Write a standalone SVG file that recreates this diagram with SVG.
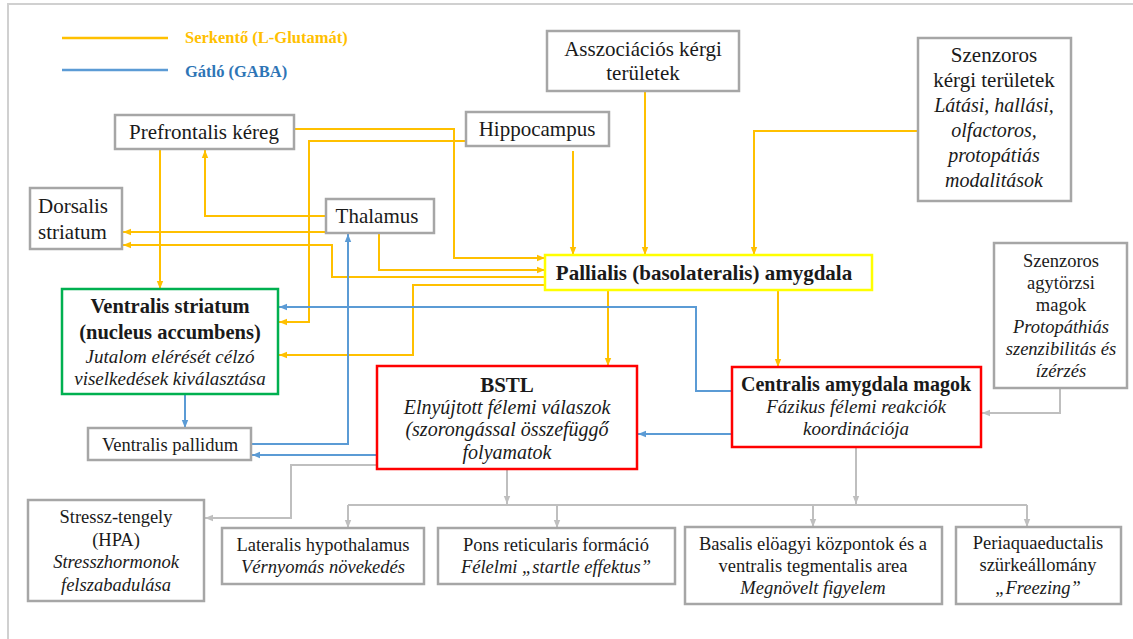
<svg xmlns="http://www.w3.org/2000/svg" width="1133" height="639" viewBox="0 0 1133 639" font-family="'Liberation Serif', serif">
<defs>
<style>
.box{fill:#fff;stroke:#A6A6A6;stroke-width:2.5}
.green{fill:#fff;stroke:#00B050;stroke-width:2.5}
.red{fill:#fff;stroke:#FF0000;stroke-width:2.5}
.yellow{fill:#fff;stroke:#FFFF00;stroke-width:2.5}
.o{fill:none;stroke:#FFC000;stroke-width:2}
.bl{fill:none;stroke:#5B9BD5;stroke-width:2}
.g{fill:none;stroke:#BFBFBF;stroke-width:2}
text{font-family:'Liberation Serif',serif;fill:#1a1a1a}
.m{text-anchor:middle}
.r21{font-size:21px}
.b21{font-size:21px;font-weight:bold}
.b205{font-size:20.5px;font-weight:bold}
.b20{font-size:20px;font-weight:bold}
.i20{font-size:20px;font-style:italic}
.i19{font-size:19px;font-style:italic}
.s{font-size:18.5px}
.si{font-size:18.5px;font-style:italic}
.leg{font-size:16.5px;font-weight:bold}
</style>
<marker id="ao" viewBox="0 0 10 10" refX="10" refY="5" markerWidth="8" markerHeight="8" markerUnits="userSpaceOnUse" orient="auto"><path d="M0,1 L10,5 L0,9 z" fill="#FFC000"/></marker>
<marker id="ab" viewBox="0 0 10 10" refX="10" refY="5" markerWidth="8" markerHeight="8" markerUnits="userSpaceOnUse" orient="auto"><path d="M0,1 L10,5 L0,9 z" fill="#5B9BD5"/></marker>
<marker id="ag" viewBox="0 0 10 10" refX="10" refY="5" markerWidth="8" markerHeight="8" markerUnits="userSpaceOnUse" orient="auto"><path d="M0,1 L10,5 L0,9 z" fill="#BFBFBF"/></marker>
</defs>
<rect width="1133" height="639" fill="#fff"/>
<path d="M8,639 V4 H1133" fill="none" stroke="#D0D0D0" stroke-width="2"/>

<g id="legend">
<line x1="62" y1="38" x2="168" y2="38" stroke="#FFC000" stroke-width="2.5"/>
<text class="leg" x="185" y="43" style="fill:#FFC000">Serkentő (L-Glutamát)</text>
<line x1="62" y1="70" x2="168" y2="70" stroke="#5B9BD5" stroke-width="2.5"/>
<text class="leg" x="185" y="77" style="fill:#2E75B6">Gátló (GABA)</text>
</g>

<g id="connectors">
<path class="o" marker-end="url(#ao)" d="M160,149 V289"/>
<path class="o" marker-end="url(#ao)" d="M326,216 H205 V150"/>
<path class="o" marker-end="url(#ao)" d="M326,232 H123"/>
<path class="o" marker-end="url(#ao)" d="M545,277 H332 V245 H123"/>
<path class="o" marker-end="url(#ao)" d="M294,129 H454 V258 H545"/>
<path class="o" marker-end="url(#ao)" d="M466,141 H309 V322 H279"/>
<path class="o" marker-end="url(#ao)" d="M379,233 V270 H545"/>
<path class="o" marker-end="url(#ao)" d="M573,151 V255"/>
<path class="o" marker-end="url(#ao)" d="M645,91 V255"/>
<path class="o" marker-end="url(#ao)" d="M918,131 H754 V255"/>
<path class="o" marker-end="url(#ao)" d="M545,285 H413 V355 H279"/>
<path class="o" marker-end="url(#ao)" d="M608,290 V366"/>
<path class="o" marker-end="url(#ao)" d="M778,290 V367"/>
<path class="bl" marker-end="url(#ab)" d="M732,391 H696 V307 H279"/>
<path class="bl" marker-end="url(#ab)" d="M732,434 H638"/>
<path class="bl" marker-end="url(#ab)" d="M185,394 V428"/>
<path class="bl" marker-end="url(#ab)" d="M251,444 H348 V234"/>
<path class="bl" marker-end="url(#ab)" d="M377,455 H252"/>
<path class="g" marker-end="url(#ag)" d="M1060,388 V413 H982"/>
<path class="g" marker-end="url(#ag)" d="M377,465 H291 V518 H205"/>
<path class="g" marker-end="url(#ag)" d="M507,469 V504"/>
<path class="g" marker-end="url(#ag)" d="M856,447 V504"/>
<path class="g" d="M348,505 H1027"/>
<path class="g" marker-end="url(#ag)" d="M348,505 V528"/>
<path class="g" marker-end="url(#ag)" d="M557,505 V528"/>
<path class="g" marker-end="url(#ag)" d="M813,505 V527"/>
<path class="g" marker-end="url(#ag)" d="M1027,505 V527"/>
</g>

<g id="prefrontalis"><rect class="box" x="115" y="115" width="179" height="34"/>
<text class="r21 m" x="204" y="139">Prefrontalis kéreg</text></g>
<g id="hippocampus"><rect class="box" x="466" y="112" width="143" height="34"/>
<text class="r21 m" x="537" y="136">Hippocampus</text></g>
<g id="asszociacios"><rect class="box" x="547" y="31" width="192" height="60"/>
<text class="r21 m" x="643" y="56">Asszociációs kérgi</text>
<text class="r21 m" x="643" y="80">területek</text></g>
<g id="szenzoros-kergi"><rect class="box" x="918" y="38" width="153" height="163"/>
<text class="r21 m" x="994" y="62">Szenzoros</text>
<text class="r21 m" x="994" y="87">kérgi területek</text>
<text class="i20 m" x="994" y="112">Látási, hallási,</text>
<text class="i20 m" x="994" y="137">olfactoros,</text>
<text class="i20 m" x="994" y="162">protopátiás</text>
<text class="i20 m" x="994" y="187">modalitások</text></g>
<g id="dorsalis"><rect class="box" x="30" y="188" width="92" height="61"/>
<text class="r21" x="38" y="213">Dorsalis</text>
<text class="r21" x="38" y="239">striatum</text></g>
<g id="thalamus"><rect class="box" x="326" y="199" width="108" height="34"/>
<text class="r21 m" x="377" y="223">Thalamus</text></g>
<g id="pallialis"><rect class="yellow" x="545" y="255" width="327" height="35"/>
<text class="b21 m" x="704" y="280">Pallialis (basolateralis) amygdala</text></g>
<g id="ventralis-striatum"><rect class="green" x="62" y="289" width="216" height="105"/>
<text class="b205 m" x="170" y="313">Ventralis striatum</text>
<text class="b205 m" x="170" y="339">(nucleus accumbens)</text>
<text class="i19 m" x="170" y="363">Jutalom elérését célzó</text>
<text class="i19 m" x="170" y="385">viselkedések kiválasztása</text></g>
<g id="bstl"><rect class="red" x="377" y="366" width="260" height="103"/>
<text class="b21 m" x="507" y="392">BSTL</text>
<text class="i20 m" x="507" y="414">Elnyújtott félemi válaszok</text>
<text class="i20 m" x="507" y="436">(szorongással összefüggő</text>
<text class="i20 m" x="507" y="459">folyamatok</text></g>
<g id="centralis"><rect class="red" x="732" y="367" width="249" height="80"/>
<text class="b20 m" x="856" y="391">Centralis amygdala magok</text>
<text class="i19 m" x="856" y="413">Fázikus félemi reakciók</text>
<text class="i19 m" x="856" y="435">koordinációja</text></g>
<g id="szenzoros-agytorzsi"><rect class="box" x="994" y="243" width="133" height="145"/>
<text class="s m" x="1061" y="267">Szenzoros</text>
<text class="s m" x="1061" y="289">agytörzsi</text>
<text class="s m" x="1061" y="311">magok</text>
<text class="si m" x="1061" y="333">Protopáthiás</text>
<text class="si m" x="1061" y="355">szenzibilitás és</text>
<text class="si m" x="1061" y="377">ízérzés</text></g>
<g id="ventralis-pallidum"><rect class="box" x="88" y="428" width="163" height="32"/>
<text class="s m" x="170" y="451">Ventralis pallidum</text></g>
<g id="stressz"><rect class="box" x="28" y="500" width="176" height="101"/>
<text class="s m" x="116" y="523">Stressz-tengely</text>
<text class="s m" x="116" y="546">(HPA)</text>
<text class="si m" x="116" y="568">Stresszhormonok</text>
<text class="si m" x="116" y="591">felszabadulása</text></g>
<g id="lateralis-hypothalamus"><rect class="box" x="222" y="528" width="202" height="56"/>
<text class="s m" x="323" y="551">Lateralis hypothalamus</text>
<text class="si m" x="323" y="573">Vérnyomás növekedés</text></g>
<g id="pons"><rect class="box" x="438" y="528" width="237" height="56"/>
<text class="s m" x="556" y="551">Pons reticularis formáció</text>
<text class="si m" x="556" y="573">Félelmi „startle effektus”</text></g>
<g id="basalis"><rect class="box" x="685" y="527" width="257" height="77"/>
<text class="s m" x="813" y="550">Basalis elöagyi központok és a</text>
<text class="s m" x="813" y="572">ventralis tegmentalis area</text>
<text class="si m" x="813" y="594">Megnövelt figyelem</text></g>
<g id="periaquaeductalis"><rect class="box" x="956" y="527" width="165" height="77"/>
<text class="s m" x="1038" y="549">Periaquaeductalis</text>
<text class="s m" x="1038" y="571">szürkeállomány</text>
<text class="si m" x="1038" y="594">„Freezing”</text></g>
</svg>
